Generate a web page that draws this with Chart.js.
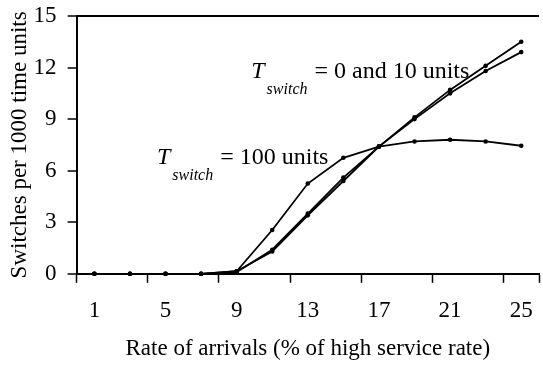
<!DOCTYPE html>
<html>
<head>
<meta charset="utf-8">
<script src="https://cdn.jsdelivr.net/npm/chart.js@4"></script>
<style>
  html, body { margin: 0; padding: 0; background: #fff; }
  #wrap { width: 543px; height: 367px; }
</style>
</head>
<body>
<div id="wrap"><canvas id="chart"></canvas></div>
<script>
// arrival rate (% of high service rate)
const rates = ['1', '3', '5', '7', '9', '11', '13', '15', '17', '19', '21', '23', '25'];
// switches per 1000 time units
const switch0 = [0, 0, 0, 0, 0.15, 1.3, 3.4, 5.4, 7.4, 9.1, 10.7, 12.1, 13.5];
const switch10 = [0, 0, 0, 0, 0.1, 1.4, 3.5, 5.6, 7.4, 9.0, 10.5, 11.8, 12.9];
const switch100 = [0, 0, 0, 0, 0.15, 2.55, 5.25, 6.75, 7.4, 7.7, 7.8, 7.7, 7.45];
const yTicks = [0, 3, 6, 9, 12, 15];

const SERIF = '"Liberation Serif", "Times New Roman", serif';

// labels "T_switch = ..." anchored in data space (category index, value)
const notes = [
  { x: 4.41, y: 11.4, text: ' = 0 and 10 units' },
  { x: 1.76, y: 6.36, text: ' = 100 units' }
];

const notePlugin = {
  id: 'notes',
  afterDatasetsDraw(chart) {
    const c = chart.ctx;
    const xs = chart.scales.x, ys = chart.scales.y;
    c.save();
    c.fillStyle = '#000';
    c.textBaseline = 'alphabetic';
    notes.forEach(n => {
      let px = xs.getPixelForValue(n.x);
      const py = ys.getPixelForValue(n.y);
      c.font = 'italic 24px ' + SERIF;
      c.fillText('T', px, py);
      px += c.measureText('T').width + 2;
      c.font = 'italic 16px ' + SERIF;
      c.fillText('switch', px, py + 16);
      px += c.measureText('switch').width + 1;
      c.font = '24px ' + SERIF;
      c.fillText(n.text, px, py);
    });
    c.restore();
  }
};

function line(label, data) {
  return {
    label: label,
    data: data,
    borderColor: '#000',
    backgroundColor: '#000',
    borderWidth: 1.8,
    pointRadius: 2.3,
    pointBorderWidth: 0,
    tension: 0,
    clip: false
  };
}

new Chart(document.getElementById('chart'), {
  type: 'line',
  data: {
    labels: rates,
    datasets: [
      line('T = 0', switch0),
      line('T = 10', switch10),
      line('T = 100', switch100)
    ]
  },
  options: {
    responsive: true,
    maintainAspectRatio: false,
    animation: false,
    layout: { padding: { top: 0, right: 0, left: 6, bottom: 4 } },
    plugins: {
      legend: { display: false },
      tooltip: { enabled: false }
    },
    scales: {
      x: {
        type: 'category',
        offset: true,
        // tick padding gets counted twice by the layout, take it back
        afterFit: s => { s.height -= 14; s.paddingLeft = 0; s.paddingRight = 0; },
        grid: {
          offset: true,
          drawOnChartArea: false,
          tickColor: ctx => (ctx.index % 2 ? 'rgba(0,0,0,0)' : '#000'),
          tickLength: 9,
          tickWidth: 1.5
        },
        border: { color: '#000', width: 2 },
        ticks: {
          autoSkip: false,
          maxRotation: 0,
          padding: 14,
          color: '#000',
          font: { family: SERIF, size: 23 },
          callback: function(v, i) { return i % 2 ? '' : rates[i]; }
        },
        title: {
          display: true,
          text: 'Rate of arrivals (% of high service rate)',
          color: '#000',
          font: { family: SERIF, size: 23 },
          padding: { top: 11, bottom: 0 }
        }
      },
      y: {
        min: 0,
        max: 15,
        afterBuildTicks: axis => { axis.ticks = yTicks.map(v => ({ value: v })); },
        afterFit: s => { s.width -= 11; s.paddingTop = 16; s.paddingBottom = 0; },
        grid: {
          color: ctx => (ctx.tick && ctx.tick.value === 15 ? '#000' : 'rgba(0,0,0,0)'),
          lineWidth: 2,
          tickColor: '#000',
          tickLength: 9,
          tickWidth: 1.5
        },
        border: { color: '#000', width: 2 },
        ticks: {
          padding: 11,
          color: '#000',
          font: { family: SERIF, size: 23 }
        },
        title: {
          display: true,
          text: 'Switches per 1000 time units',
          color: '#000',
          font: { family: SERIF, size: 23 },
          padding: { top: 0, bottom: 0 }
        }
      }
    }
  },
  plugins: [notePlugin]
});
</script>
</body>
</html>
